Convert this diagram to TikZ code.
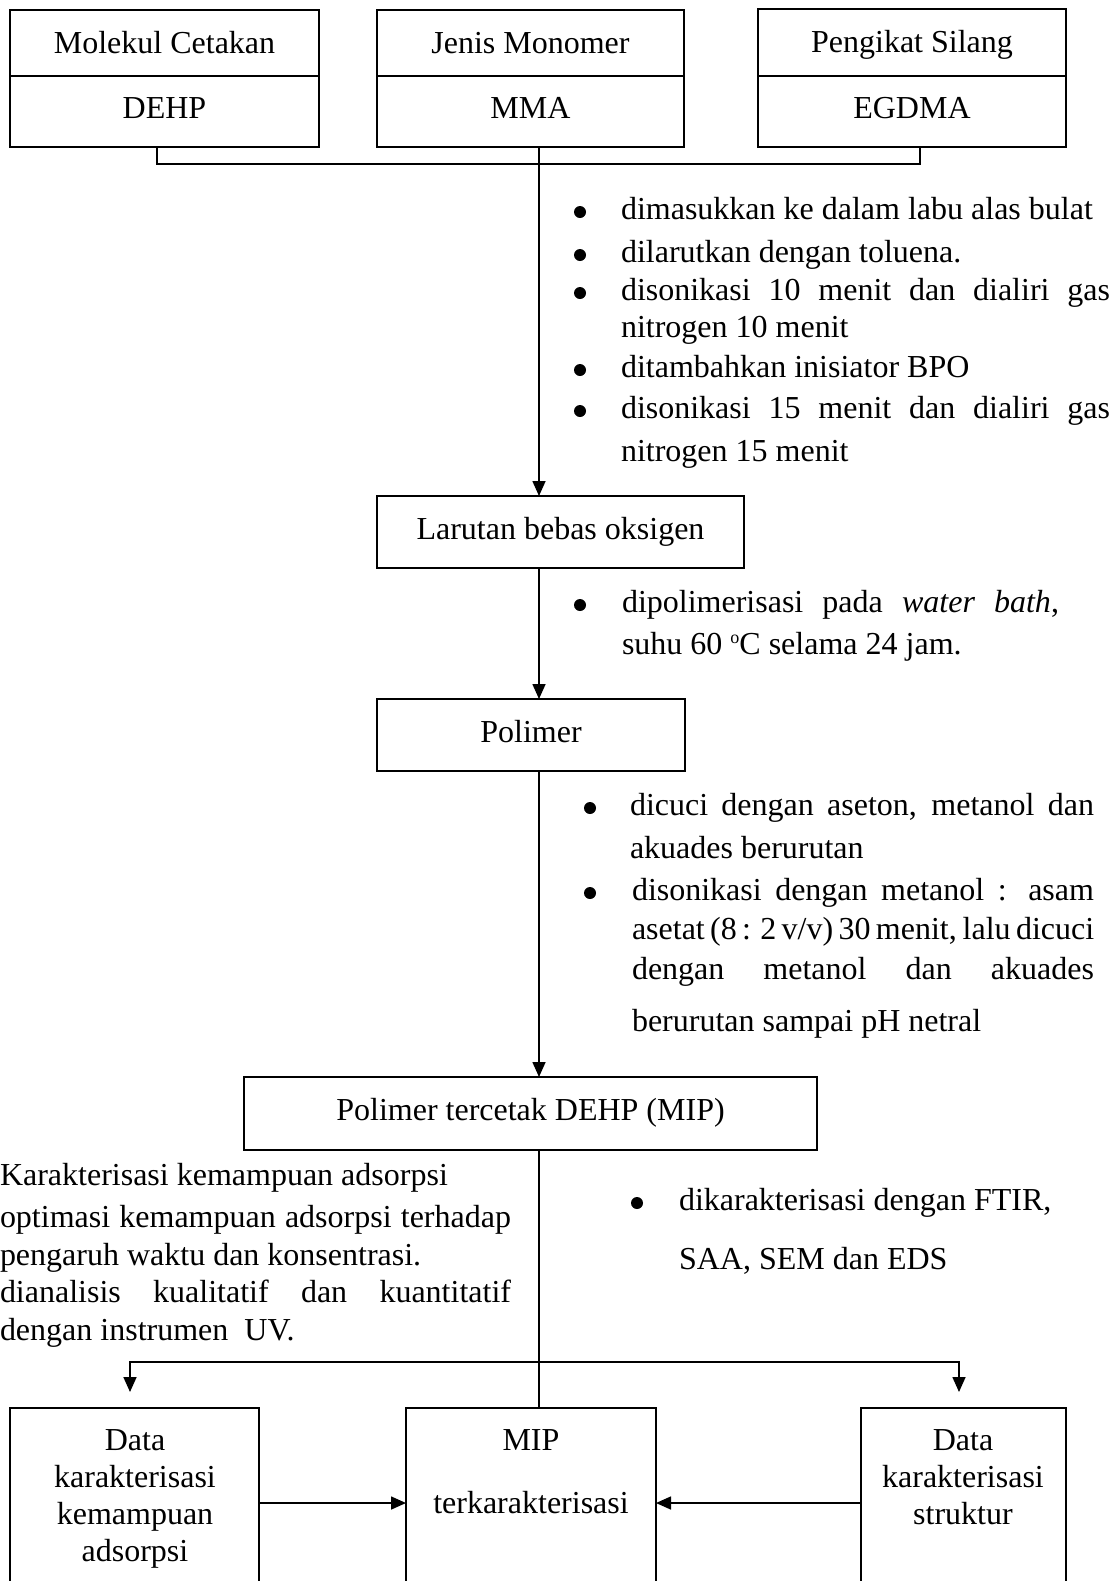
\documentclass[tikz,border=0pt]{standalone}
\usepackage{fontspec}
\setmainfont{Liberation Serif}
\usetikzlibrary{arrows.meta}
\newcommand{\degsup}{{\fontsize{9pt}{9pt}\selectfont\raisebox{5.5pt}{o}}}
\begin{document}
\begin{tikzpicture}[x=0.5pt,y=-0.5pt,
  every node/.style={font=\fontsize{16pt}{19pt}\selectfont, inner sep=0pt, outer sep=0pt},
  ln/.style={line width=0.8pt},
  arr/.style={line width=0.8pt, -{Triangle[length=7.5pt,width=6.5pt]}},
  box/.style={draw, line width=0.8pt, anchor=north west, align=center, text height=10pt, text depth=3pt},
  hi/.style={text height=12.5pt, text depth=2.5pt},
  tl/.style={anchor=base west},
  bul/.style={circle, fill, minimum size=6pt, inner sep=0pt},
  ctr/.style={anchor=base}]
\useasboundingbox (0,0) rectangle (1120,1581);

% top boxes
\node[box,hi,minimum width=154.5pt,minimum height=33pt] (m1) at (10,10) {Molekul Cetakan};
\node[box,minimum width=154.5pt,minimum height=35.5pt] (v1) at (10,76) {DEHP};
\node[box,hi,minimum width=153.5pt,minimum height=33pt] (m2) at (377,10) {Jenis Monomer};
\node[box,minimum width=153.5pt,minimum height=35.5pt] (v2) at (377,76) {MMA};
\node[box,hi,minimum width=154pt,minimum height=33.5pt] (m3) at (758,9) {Pengikat Silang};
\node[box,minimum width=154pt,minimum height=35.5pt] (v3) at (758,76) {EGDMA};

\coordinate (j1) at (157,164);
\coordinate (j2) at (539,164);
\coordinate (j3) at (920,164);
\draw[ln] (v1.south -| j1) -- (j1) -- (j3) -- (v3.south -| j3);

% step boxes
\node[box,minimum width=183.5pt,minimum height=36pt] (lar) at (377,496) {Larutan bebas oksigen};
\node[box,minimum width=154pt,minimum height=36pt] (pol) at (377,699) {Polimer};
\node[box,minimum width=286.5pt,minimum height=36.5pt] (mip) at (244,1077) {Polimer tercetak DEHP (MIP)};

\draw[arr] (v2.south -| j2) -- (lar.north -| j2);
\draw[arr] (lar.south -| j2) -- (pol.north -| j2);
\draw[arr] (pol.south -| j2) -- (mip.north -| j2);

% list 1
\node[bul] (a1) at (580,212) {};
\node[tl] (a1t) at (621,219) {dimasukkan ke dalam labu alas bulat};
\node[bul] (a2) at (580,255) {};
\node[tl] (a2t) at (621,262) {dilarutkan dengan toluena.};
\node[bul] (a3) at (580,293) {};
\node[tl] (a3t) at (621,300) {\makebox[244.5pt][s]{disonikasi 10 menit dan dialiri gas}};
\node[tl] (a3u) at (621,337) {nitrogen 10 menit};
\node[bul] (a4) at (580,370) {};
\node[tl] (a4t) at (621,377) {ditambahkan inisiator BPO};
\node[bul] (a5) at (580,411) {};
\node[tl] (a5t) at (621,418) {\makebox[244.5pt][s]{disonikasi 15 menit dan dialiri gas}};
\node[tl] (a5u) at (621,461) {nitrogen 15 menit};

% list 2
\node[bul] (p1) at (580,605) {};
\node[tl] (p1t) at (622,612) {\makebox[218.5pt][s]{dipolimerisasi pada \textit{water bath},}};
\node[tl] (p1u) at (622,654) {suhu 60 \degsup C selama 24 jam.};

% list 3
\node[bul] (c1) at (590,808) {};
\node[tl] (c1t) at (630,815) {\makebox[232pt][s]{dicuci dengan aseton, metanol dan}};
\node[tl] (c1u) at (630,858) {akuades berurutan};
\node[bul] (c2) at (590,893) {};
\node[tl] (c2t) at (632,900) {\makebox[231pt][s]{disonikasi dengan metanol : asam}};
\node[tl] (c2u) at (632,939) {\makebox[231pt][s]{asetat (8 : 2 v/v) 30 menit, lalu dicuci}};
\node[tl] (c2v) at (632,979) {\makebox[231pt][s]{dengan metanol dan akuades}};
\node[tl] (c2w) at (632,1031) {berurutan sampai pH netral};

% left text
\node[tl] (k1) at (0,1185) {Karakterisasi kemampuan adsorpsi};
\node[tl] (k2) at (0,1227) {\makebox[255.5pt][s]{optimasi kemampuan adsorpsi terhadap}};
\node[tl] (k3) at (0,1265) {pengaruh waktu dan konsentrasi.};
\node[tl] (k4) at (0,1302) {\makebox[255.5pt][s]{dianalisis kualitatif dan kuantitatif}};
\node[tl] (k5) at (0,1340) {dengan instrumen\ \ UV.};

% list 4
\node[bul] (f1) at (637,1203) {};
\node[tl] (f1t) at (679,1210) {dikarakterisasi dengan FTIR,};
\node[tl] (f1u) at (679,1269) {SAA, SEM dan EDS};

% bottom boxes
\node[box,minimum width=124.5pt,minimum height=96pt] (bl) at (10,1408) {};
\node[box,minimum width=125pt,minimum height=96pt] (bm) at (406,1408) {};
\node[box,minimum width=102.5pt,minimum height=96pt] (br) at (861,1408) {};

\node[ctr] (bl1) at (135,1450) {Data};
\node[ctr] (bl2) at (135,1487) {karakterisasi};
\node[ctr] (bl3) at (135,1524) {kemampuan};
\node[ctr] (bl4) at (135,1561) {adsorpsi};
\node[ctr] (bm1) at (531,1450) {MIP};
\node[ctr] (bm2) at (531,1513) {terkarakterisasi};
\node[ctr] (br1) at (963,1450) {Data};
\node[ctr] (br2) at (963,1487) {karakterisasi};
\node[ctr] (br3) at (963,1524) {struktur};

\draw[ln] (mip.south -| j2) -- (bm.north -| j2);
\coordinate (k) at (539,1362);
\coordinate (tL) at (130,1392);
\coordinate (tR) at (959,1392);
\draw[arr] (k) -| (tL);
\draw[arr] (k) -| (tR);
\coordinate (h) at (0,1503);
\draw[arr] (bl.east |- h) -- (bm.west |- h);
\draw[arr] (br.west |- h) -- (bm.east |- h);
\end{tikzpicture}
\end{document}
